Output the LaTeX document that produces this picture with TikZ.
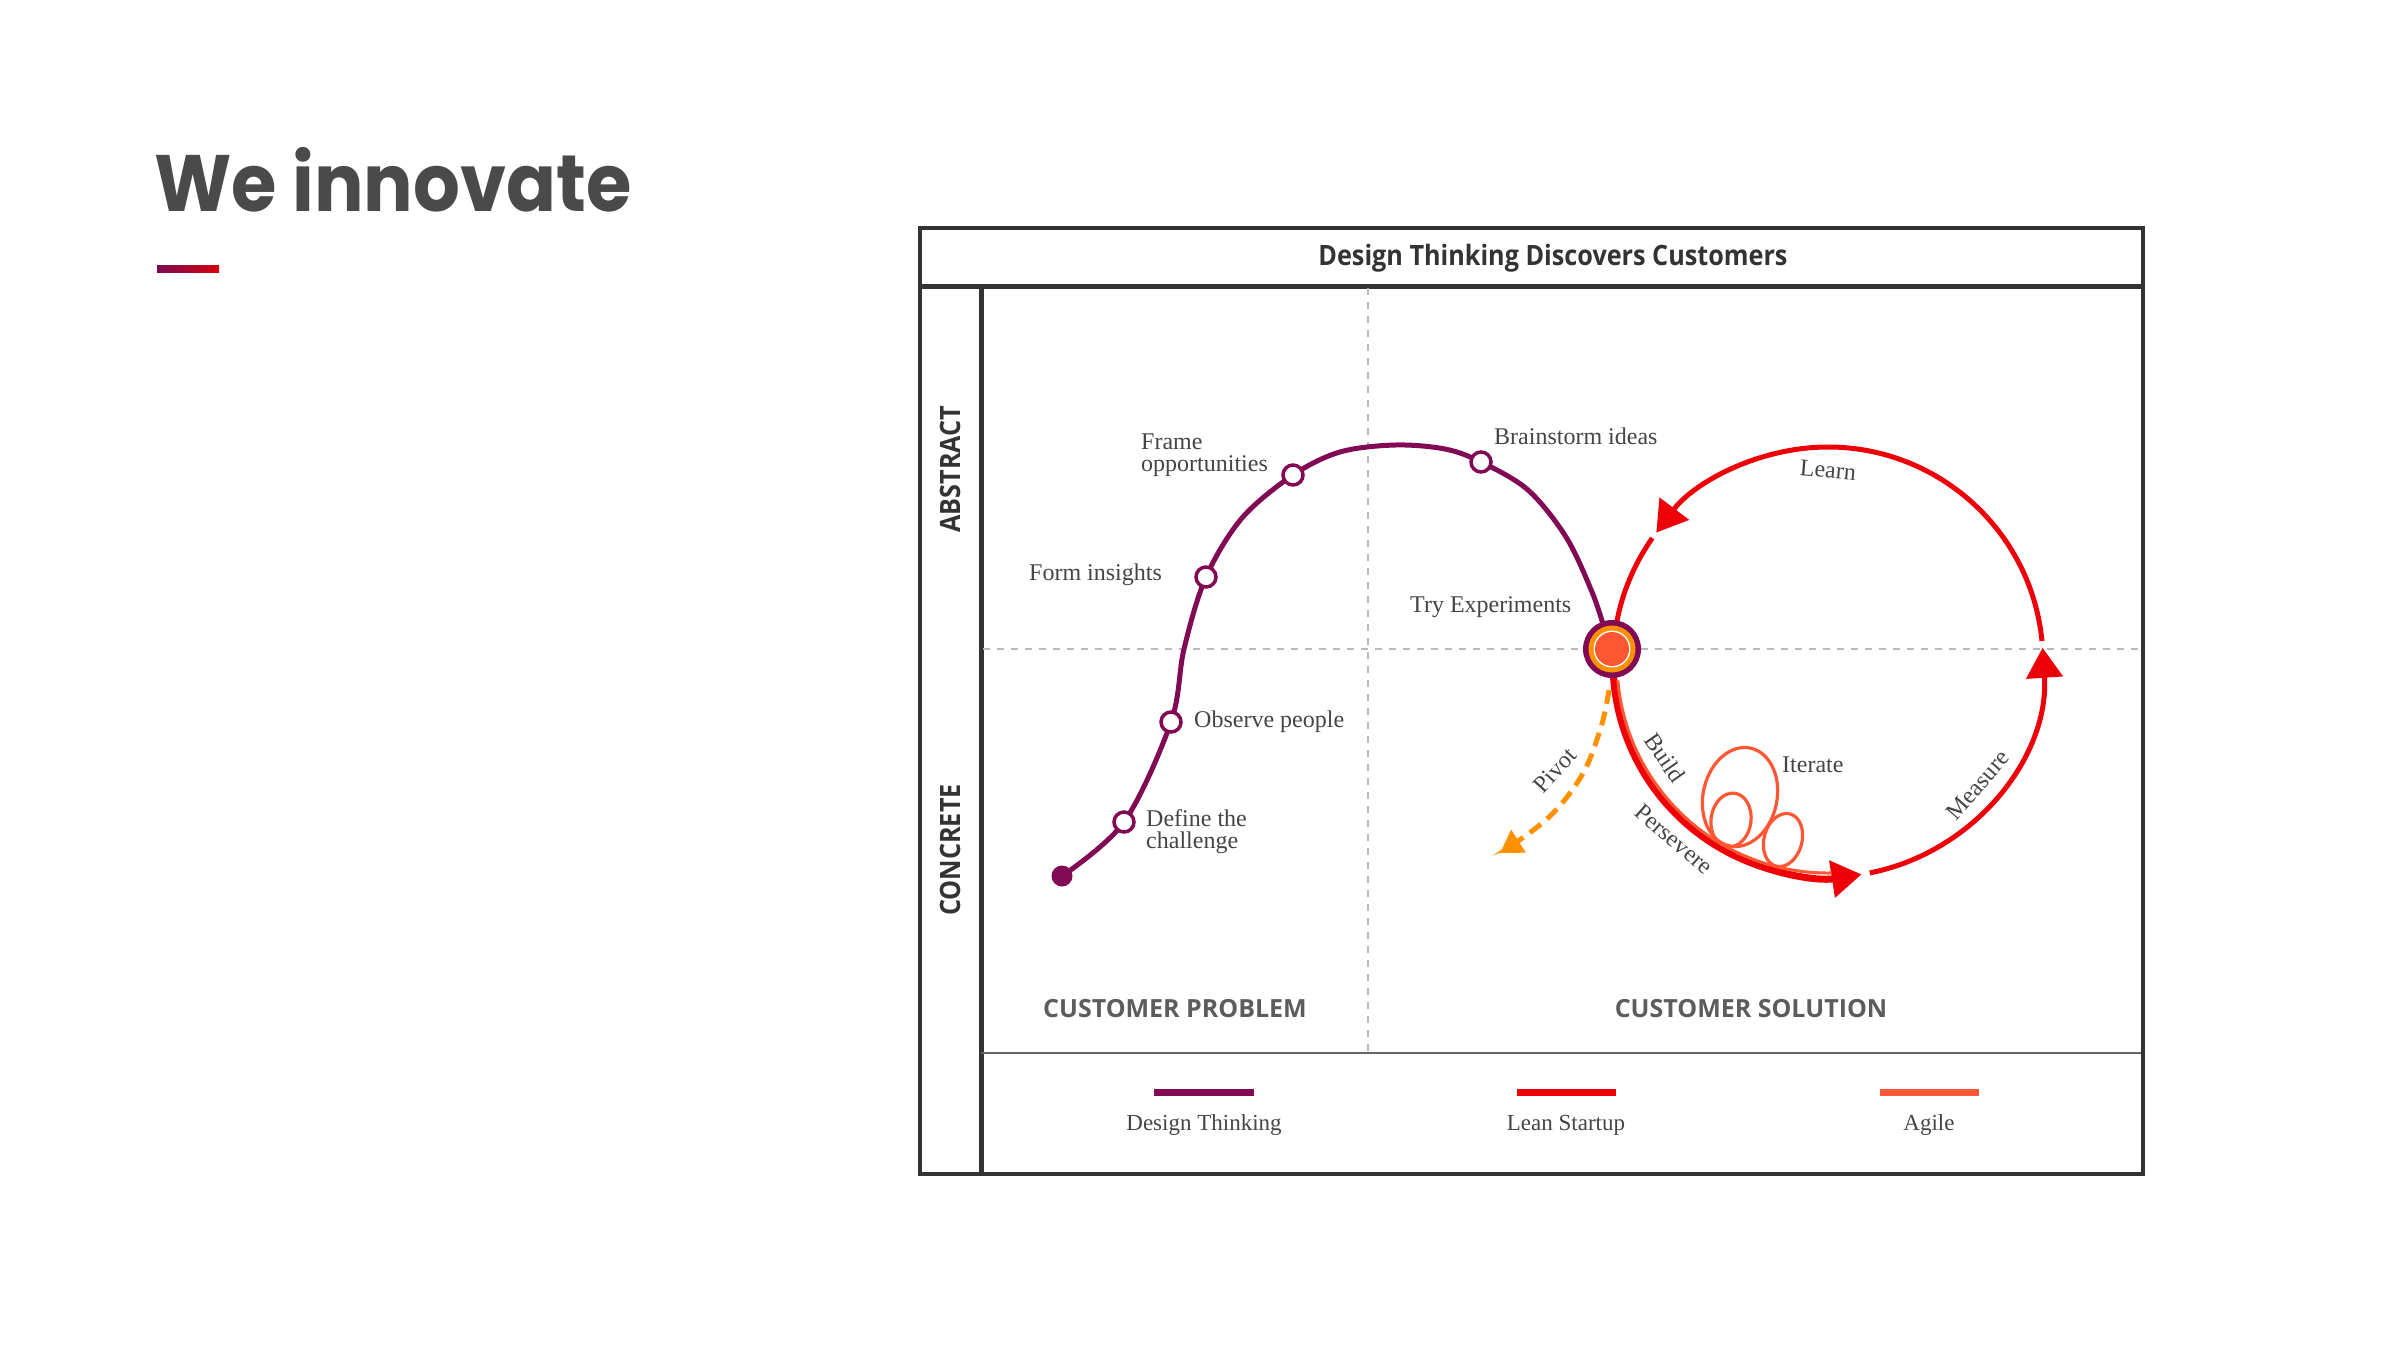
\documentclass[tikz,border=0pt]{standalone}
\usepackage{fontspec}
\usetikzlibrary{arrows.meta,calc}
\newfontfamily\osans{Open Sans}
\newfontfamily\ocond[FakeStretch=0.9]{Open Sans}
\newfontfamily\popp[FakeStretch=0.92]{Poppins}
\newfontfamily\lser{Liberation Serif}
\definecolor{dtp}{HTML}{820A55}
\definecolor{lsr}{HTML}{EE0008}
\definecolor{agl}{HTML}{FF5733}
\definecolor{pvt}{HTML}{FF9100}
\definecolor{txt}{HTML}{454545}
\definecolor{frm}{HTML}{333333}
\definecolor{ttl}{HTML}{4A4A4A}
\definecolor{barL}{HTML}{7A0A50}
\definecolor{barR}{HTML}{D8000E}
\begin{document}
\begin{tikzpicture}[x=1pt,y=-1pt,
  lbl/.style={text=txt,font=\lser\fontsize{24}{22}\selectfont,inner sep=0pt,align=left},
  leg/.style={text=txt,font=\lser\fontsize{23}{24}\selectfont,inner sep=0pt},
  sect/.style={text=ttl!90,font=\osans\bfseries\fontsize{25}{28}\selectfont,inner sep=0pt},
  side/.style={text=frm,font=\ocond\bfseries\fontsize{28}{30}\selectfont,inner sep=0pt,rotate=90},
  legline/.style={line width=7pt},
  guide/.style={gray!55,line width=1.5pt,dash pattern=on 7pt off 7pt},
  mk/.style={circle,draw=dtp,fill=white,line width=3.5pt,minimum size=20pt,inner sep=0pt},
  dtline/.style={dtp,line width=5pt},
  loopline/.style={lsr,line width=5pt},
  tip/.style={-{Triangle[length=30pt,width=36pt]}},
  agline/.style={agl,line width=3.2pt}]
\useasboundingbox (0,0) rectangle (2400,1350);
\fill[white] (0,0) rectangle (2400,1350);

% heading
\node[anchor=base west,inner sep=0pt,text=ttl,font=\popp\bfseries\fontsize{80}{90}\selectfont] (head) at (154,211) {We innovate};
\shade[left color=barL,right color=barR] (157,265) rectangle (219,272);

% frame
\node[draw=frm,line width=4pt,minimum width=1223pt,minimum height=946pt,inner sep=0pt,anchor=north west] (frame) at (918,226) {};
\coordinate (tl) at (918,286); \coordinate (tr) at (2141,286);
\draw[frm,line width=5pt] (tl) -- (tr);
\coordinate (ct) at (981,286); \coordinate (cb) at (981,1172);
\draw[frm,line width=5pt] (ct) -- (cb);
\coordinate (ll) at (981,1053); \coordinate (lr) at (2141,1053);
\draw[gray!80!black,line width=2pt] (ll) -- (lr);
\node[text=frm,font=\ocond\bfseries\fontsize{28}{30}\selectfont,inner sep=0pt] (title) at (1553,258) {Design Thinking Discovers Customers};
\node[side] (abs) at (950,469) {ABSTRACT};
\node[side] (con) at (950,850) {CONCRETE};

% guides
\coordinate (vt) at (1368,288); \coordinate (vb) at (1368,1052);
\coordinate (hl) at (983,649); \coordinate (hr) at (2139,649);
\draw[guide] (vt) -- (vb);
\draw[guide] (hl) -- (hr);

% points
\coordinate (E) at (1062,876);
\coordinate (D) at (1124,822);
\coordinate (O) at (1171,722);
\coordinate (F) at (1206,577);
\coordinate (Fr) at (1293,475);
\coordinate (B) at (1481,462);
\coordinate (P) at (1612,649);
\coordinate (C) at (1828,662);

% design thinking curve
\draw[dtline] plot[smooth,tension=0.55] coordinates {(E) (D) (O) (1184,649) (F) (1242,518) (Fr) (1340,452) (1395,445) (1445,449) (B) (1528,490) (1566,537) (1592,592) (1605,630) (P)};

% lean startup loop
\draw[loopline,tip] ([shift={(78.8:215)}]C) arc[start angle=78.8,end angle=-3.8,radius=215];
\draw[loopline,tip] ([shift={(-5.6:215)}]C) arc[start angle=-5.6,end angle=-143,radius=215];
\draw[loopline] ([shift={(-144.8:215)}]C) arc[start angle=-144.8,end angle=-170,radius=215];

% agile loops
\draw[agline,rotate around={-12:(1740,797)}] (1740,797) ellipse[x radius=37,y radius=50];
\draw[agline,rotate around={-8:(1731,820)}] (1731,820) ellipse[x radius=20,y radius=27];
\draw[agline,rotate around={-15:(1783,840)}] (1783,840) ellipse[x radius=19,y radius=27];

% build
\draw[lsr,line width=7pt,tip] ([shift={(176:215)}]C) arc[start angle=176,end angle=81,radius=215];
\draw[agl,line width=3pt] ([shift={(175:211)}]C) arc[start angle=175,end angle=89,radius=211];

% pivot
\coordinate (pv0) at (1609,690);
\coordinate (pv1) at (1500,853);
\draw[pvt,line width=5pt,dash pattern=on 14pt off 8pt,-{Triangle[length=22pt,width=26pt]}] plot[smooth,tension=0.6] coordinates {(pv0) (1601,727) (1582,775) (1548,818) (pv1)};

% try experiments hub
\fill[dtp] (P) circle (29);
\fill[pvt] (P) circle (23.5);
\fill[white] (P) circle (18.5);
\fill[agl] (P) circle (17);
\node[circle,minimum size=34pt,inner sep=0pt] (hub) at (P) {};

% markers
\fill[dtp] (E) circle (10.5);
\node[mk] (mD) at (D) {};
\node[mk] (mO) at (O) {};
\node[mk] (mF) at (F) {};
\node[mk] (mFr) at (Fr) {};
\node[mk] (mB) at (B) {};

% labels
\node[lbl,anchor=west] (lFr) at (1141,455) {Frame\\opportunities};
\node[lbl,anchor=west] (lF) at (1029,575) {Form insights};
\node[lbl,anchor=west] (lO) at (1194,722) {Observe people};
\node[lbl,anchor=west] (lD) at (1146,832) {Define the\\challenge};
\node[lbl,anchor=west] (lB) at (1494,436) {Brainstorm ideas};
\node[lbl,anchor=west] (lT) at (1410,607) {Try Experiments};
\node[lbl,rotate=-5] (lL) at (1828,470) {Learn};
\node[lbl,anchor=west] (lI) at (1782,765) {Iterate};
\node[lbl,rotate=49] (lM) at (1978,785) {Measure};
\node[lbl,rotate=-55] (lBu) at (1665,758) {Build};
\node[lbl,rotate=-41] (lP) at (1674,839) {Persevere};
\node[lbl,rotate=48] (lPv) at (1555,770) {Pivot};

\node[sect] (cp) at (1175,1009) {CUSTOMER PROBLEM};
\node[sect] (cs) at (1751,1009) {CUSTOMER SOLUTION};

% legend
\coordinate (a1) at (1154,1092); \coordinate (a2) at (1254,1092);
\coordinate (b1) at (1517,1092); \coordinate (b2) at (1616,1092);
\coordinate (c1) at (1880,1092); \coordinate (c2) at (1979,1092);
\draw[legline,dtp] (a1) -- (a2);
\draw[legline,lsr] (b1) -- (b2);
\draw[legline,agl] (c1) -- (c2);
\node[leg] (ga) at (1204,1125) {Design Thinking};
\node[leg] (gb) at (1566,1125) {Lean Startup};
\node[leg] (gc) at (1929,1125) {Agile};
\end{tikzpicture}
\end{document}
